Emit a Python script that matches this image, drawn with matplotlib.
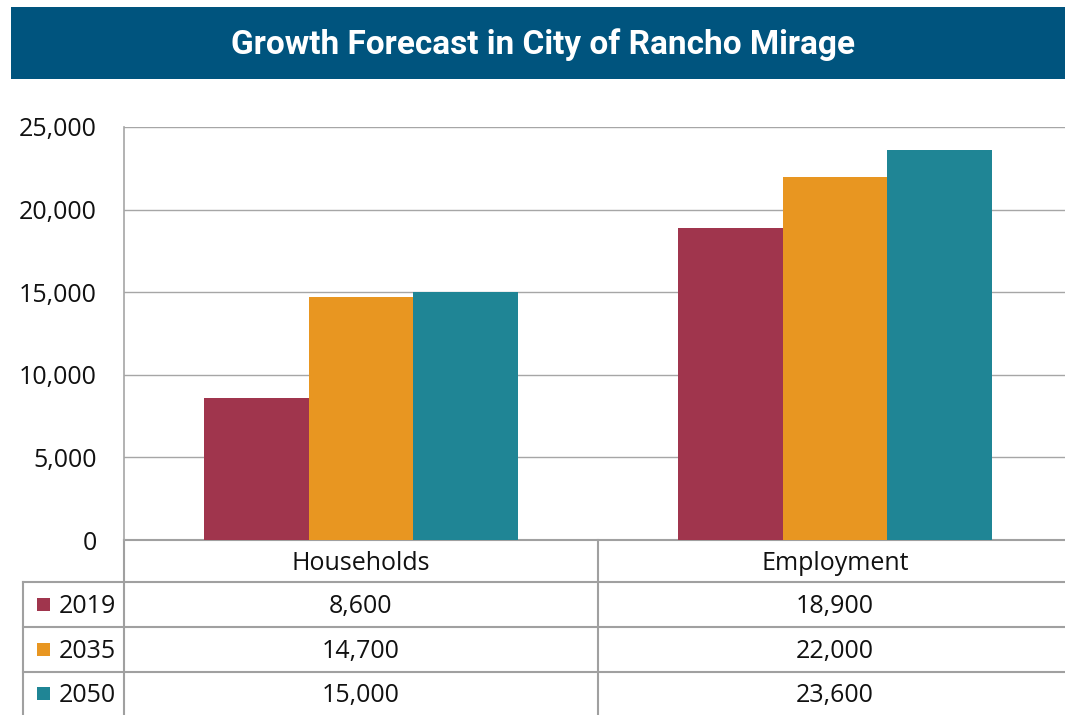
import matplotlib
matplotlib.use("Agg")
import matplotlib.pyplot as plt
from matplotlib.patches import Rectangle
from matplotlib.ticker import FuncFormatter

# ---- data ----
categories = ["Households", "Employment"]
years = ["2019", "2035", "2050"]
values_2019 = [8600, 18900]
values_2035 = [14700, 22000]
values_2050 = [15000, 23600]
series = [values_2019, values_2035, values_2050]
colors = ["#A0354D", "#E89621", "#1F8595"]
y_ticks = [0, 5000, 10000, 15000, 20000, 25000]
title = "Growth Forecast in City of Rancho Mirage"

W, H = 1065, 715
fig = plt.figure(figsize=(W / 100, H / 100), dpi=100)
fig.patch.set_facecolor("white")

def fx(px):
    return px / W

def fy(py):
    return 1 - py / H

font = "Open Sans"
grid_c = "#A6A6A6"
txt_c = "#111111"

# overlay in pixel coords
ov = fig.add_axes([0, 0, 1, 1])
ov.set_xlim(0, W)
ov.set_ylim(H, 0)
ov.axis("off")

# title banner
ov.add_patch(Rectangle((11, 7), W - 11, 72, facecolor="#00547E", edgecolor="none"))
ov.text(543, 45, title, ha="center", va="center", color="white",
        fontsize=24, fontweight="bold", family="Roboto")

# main axes (plot area extends slightly beyond the right edge)
left, right, top, bottom = 124, 1072, 127, 540
ax = fig.add_axes([fx(left), fy(bottom), fx(right - left), (bottom - top) / H])
ax.set_zorder(2)
ax.patch.set_alpha(0)
n = len(series)
bw = 0.2215
for i, (vals, c) in enumerate(zip(series, colors)):
    xs = [j + (i - (n - 1) / 2) * bw for j in range(len(categories))]
    ax.bar(xs, vals, width=bw, color=c, zorder=3)
ax.set_xlim(-0.5, len(categories) - 0.5)
ax.set_ylim(0, 25000)
ax.set_yticks(y_ticks)
ax.yaxis.set_major_formatter(FuncFormatter(lambda v, p: f"{int(v):,}"))
ax.set_xticks([])
ax.tick_params(axis="y", length=0, pad=19.5, labelsize=18, labelcolor=txt_c)
for lab in ax.get_yticklabels():
    lab.set_family(font)
ax.grid(axis="y", color=grid_c, linewidth=1, zorder=0)
for s in ["top", "right", "bottom"]:
    ax.spines[s].set_visible(False)
ax.spines["left"].set_color(grid_c)
ax.spines["left"].set_linewidth(1.2)

# data table
row_y = [540, 582, 627, 672, 715]
lc = "#A0A0A0"
ov.plot([124, W], [540, 540], color=lc, lw=1.5)
for y in row_y[1:-1]:
    ov.plot([23, W], [y, y], color=lc, lw=1.5)
ov.plot([124, 124], [540, H], color=lc, lw=1.5)
ov.plot([598, 598], [540, H], color=lc, lw=1.5)
ov.plot([23, 23], [582, H], color=lc, lw=1.5)

fs = 18
cat_centers = [(124 + 598) / 2, (598 + 1072) / 2]
for cx, cat in zip(cat_centers, categories):
    ov.text(cx, (540 + 582) / 2 + 2, cat, ha="center", va="center",
            fontsize=fs, family=font, color=txt_c)
for r, (yr, vals, c) in enumerate(zip(years, series, colors)):
    ymid = (row_y[r + 1] + row_y[r + 2]) / 2
    ov.add_patch(Rectangle((37, ymid - 6.5), 13, 13, facecolor=c, edgecolor="none"))
    ov.text(59, ymid + 2, yr, ha="left", va="center", fontsize=fs, family=font, color=txt_c)
    for cx, v in zip(cat_centers, vals):
        ov.text(cx, ymid + 2, f"{v:,}", ha="center", va="center",
                fontsize=fs, family=font, color=txt_c)

fig.savefig("out.png", dpi=100)
